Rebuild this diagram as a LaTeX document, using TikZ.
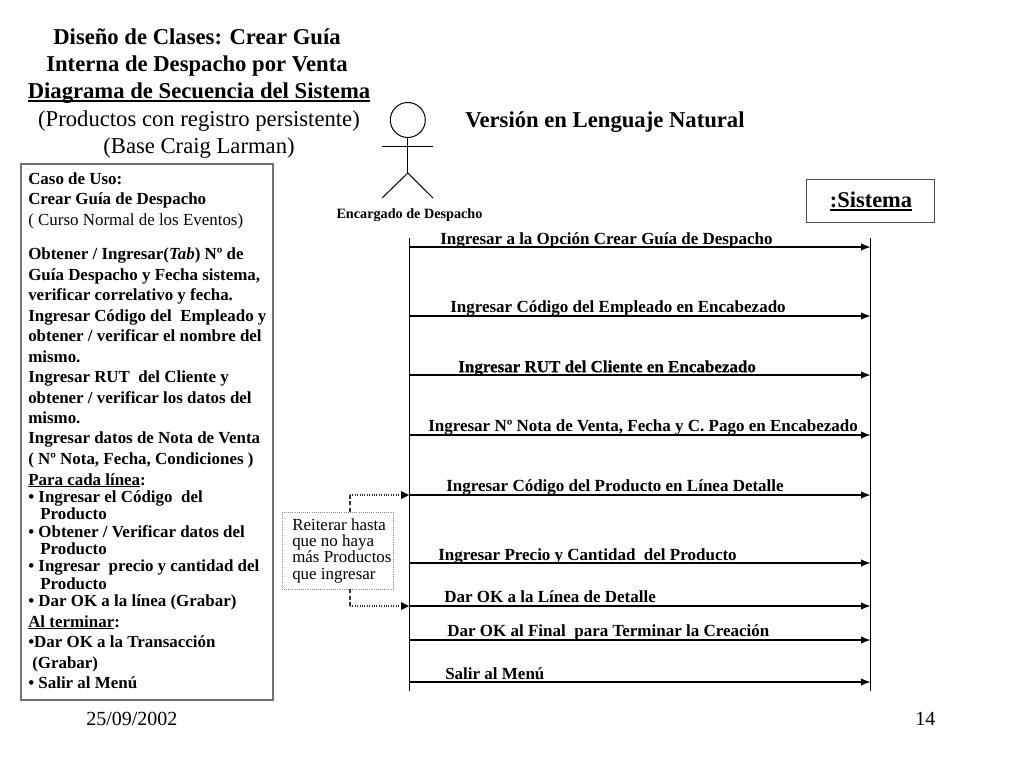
\documentclass[tikz,border=0pt]{standalone}
\usepackage{fontspec}
\setmainfont{Liberation Serif}
\newfontface\fakebold[FakeBold=0.6]{Liberation Serif Bold}
\usetikzlibrary{arrows.meta}
\newcommand\ulbelow[3]{\leavevmode\setbox0\hbox{#3}\rlap{\rule[-#1]{\wd0}{#2}}\box0}
\tikzset{
 x=0.75pt,y=-0.75pt,
 titletext/.style={font=\fontsize{17}{17}\selectfont,anchor=base,inner sep=0},
 titlebold/.style={font=\fontsize{17}{17}\selectfont\bfseries,anchor=base,inner sep=0},
 tl/.style={font=\fontsize{12.7}{12.7}\selectfont\bfseries,anchor=base west,inner sep=0,yshift=-0.9pt},
 lr/.style={font=\fontsize{12.7}{12.7}\selectfont,anchor=base west,inner sep=0,yshift=-0.9pt},
 msglabel/.style={font=\fontsize{12.75}{12.75}\selectfont\bfseries,anchor=base west,inner sep=0,yshift=-0.9pt},
 lifeline/.style={draw=black,line width=0.75pt},
 msg/.style={draw=black,line width=0.9pt,-{Latex[length=7pt,width=5.5pt]}},
 dotline/.style={draw=black!80,line width=0.8pt,densely dotted},
 dashline/.style={draw=black!80,line width=0.8pt,densely dashed},
 actorline/.style={draw=black,line width=0.75pt},
}
\begin{document}
\begin{tikzpicture}
\useasboundingbox[fill=white] (0,0) rectangle (1024,768);
% title
\node[titlebold] (t1) at (197,44) {Diseño de Clases: Crear Guía};
\node[titlebold] (t2) at (197,71) {Interna de Despacho por Venta};
\node[titlebold] (t3) at (199,98.7) {\ulbelow{2.2pt}{1pt}{Diagrama de Secuencia del Sistema}};
\node[titletext] (t4) at (199,126) {(Productos con registro persistente)};
\node[titletext] (t5) at (199,153.7) {(Base Craig Larman)};
\node[titlebold,anchor=base west] (vers) at (465,127) {Versión en Lenguaje Natural};
% use case box
\draw[draw=black!55,line width=1.5pt] (21,164) rectangle (273,700);
\node[tl] (l1) at (28,183) {Caso de Uso:};
\node[tl] (l2) at (28,203) {Crear Guía de Despacho};
\node[lr] (l3) at (28,224) {( Curso Normal de los Eventos)};
\node[tl] (l4) at (28,258) {Obtener / Ingresar(\textit{Tab}) Nº de};
\node[tl] (l5) at (28,279) {Guía Despacho y Fecha sistema,};
\node[tl] (l6) at (28,299) {verificar correlativo y fecha.};
\node[tl] (l7) at (28,320) {Ingresar Código del\ \ Empleado y};
\node[tl] (l8) at (28,340) {obtener / verificar el nombre del};
\node[tl] (l9) at (28,361) {mismo.};
\node[tl] (l10) at (28,381) {Ingresar RUT\ \ del Cliente y};
\node[tl] (l11) at (28,402) {obtener / verificar los datos del};
\node[tl] (l12) at (28,422) {mismo.};
\node[tl] (l13) at (28,442) {Ingresar datos de Nota de Venta};
\node[tl] (l14) at (28,463) {( Nº Nota, Fecha, Condiciones )};
\node[tl] (l15) at (28,484) {\ulbelow{1.6pt}{0.75pt}{Para cada línea}:};
\node[tl] (l16) at (28,501) {• Ingresar el Código\ \ del};
\node[tl] (l17) at (40,518) {Producto};
\node[tl] (l18) at (28,536) {• Obtener / Verificar datos del};
\node[tl] (l19) at (40,553) {Producto};
\node[tl] (l20) at (28,570) {• Ingresar\ \ precio y cantidad del};
\node[tl] (l21) at (40,588) {Producto};
\node[tl] (l22) at (28,605) {• Dar OK a la línea (Grabar)};
\node[tl] (l23) at (28,626) {\ulbelow{1.6pt}{0.75pt}{Al terminar}:};
\node[tl] (l24) at (28,646) {•Dar OK a la Transacción};
\node[tl] (l25) at (32,667) {(Grabar)};
\node[tl] (l26) at (28,687) {• Salir al Menú};
% footer
\node[lr,font=\fontsize{15}{15}\selectfont] (date) at (86,724) {25/09/2002};
\node[lr,font=\fontsize{15}{15}\selectfont] (page) at (915,724) {14};
% actor
\node[draw=black,line width=0.75pt,circle,minimum size=26.25pt,inner sep=0] (head) at (407.8,120) {};
\coordinate (armL) at (382,146);
\coordinate (armR) at (433,146);
\coordinate (hip) at (407.8,173);
\coordinate (legL) at (382,198);
\coordinate (legR) at (433,198);
\draw[actorline] (head.south) -- (hip);
\draw[actorline] (armL) -- (armR);
\draw[actorline] (legL) -- (hip) -- (legR);
\node[anchor=base,inner sep=0,yshift=-0.9pt,font=\fontsize{10.65}{10.65}\selectfont\bfseries] (actorname) at (409.5,217) {Encargado de Despacho};
% system
\node[draw=black!70,line width=0.9pt,minimum width=96pt,minimum height=32pt,inner sep=0,anchor=north west] (sys) at (806,179) {};
\node[font=\fontsize{16.85}{16.85}\selectfont\bfseries,anchor=base,inner sep=0,yshift=-0.9pt] (syslabel) at (871,206) {:Sistema};
\coordinate (ulL) at (830,210); \coordinate (ulR) at (912,210);
\draw[draw=black,line width=1.4pt] (ulL) -- (ulR);
% lifelines
\coordinate (a0) at (409,238); \coordinate (a1) at (409,691);
\coordinate (s0) at (870.5,238); \coordinate (s1) at (870.5,691);
\draw[lifeline] (a0) -- (a1);
\draw[lifeline] (s0) -- (s1);
% messages
\foreach \n/\yy in {1/247,2/316,3/375,4/435,5/495,6/563,7/606,8/640,9/682}{
  \coordinate (ma\n) at (409,\yy);
  \coordinate (ms\n) at (870.5,\yy);
  \draw[msg] (ma\n) -- (ms\n);
}
\node[msglabel] (m1) at (440,243) {Ingresar a la Opción Crear Guía de Despacho};
\node[msglabel] (m2) at (450,311) {Ingresar Código del Empleado en Encabezado};
\node[msglabel,font=\fontsize{12.75}{12.75}\fakebold] (m3) at (458,371) {Ingresar RUT del Cliente en Encabezado};
\node[msglabel] (m4) at (428,430) {Ingresar Nº Nota de Venta, Fecha y C. Pago en Encabezado};
\node[msglabel] (m5) at (446,490) {Ingresar Código del Producto en Línea Detalle};
\node[msglabel] (m6) at (438,559) {Ingresar Precio y Cantidad\ \ del Producto};
\node[msglabel] (m7) at (444,601) {Dar OK a la Línea de Detalle};
\node[msglabel] (m8) at (447,635) {Dar OK al Final\ \ para Terminar la Creación};
\node[msglabel] (m9) at (445,678) {Salir al Menú};
% note
\draw[draw=black!45,line width=0.6pt,densely dotted] (282,512) rectangle (393,589);
\node[lr,yshift=0.9pt] (n1) at (292,530) {Reiterar hasta};
\node[lr,yshift=0.9pt] (n2) at (292,546) {que no haya};
\node[lr,yshift=0.9pt] (n3) at (292,562) {más Productos};
\node[lr,yshift=0.9pt] (n4) at (292,579) {que ingresar};
\coordinate (nt) at (350,512); \coordinate (ntc) at (350,495);
\coordinate (nb) at (350,589); \coordinate (nbc) at (350,606);
\draw[dashline] (nt) -- (ntc);
\draw[dashline] (nb) -- (nbc);
\draw[dotline] (ntc) -- (400,495);
\draw[dotline] (nbc) -- (400,606);
\coordinate (tipt) at (409,495); \coordinate (tipb) at (409,606);
\fill[black] (401,491) -- (tipt) -- (401,499) -- cycle;
\fill[black] (401,602) -- (tipb) -- (401,610) -- cycle;
\end{tikzpicture}
\end{document}
